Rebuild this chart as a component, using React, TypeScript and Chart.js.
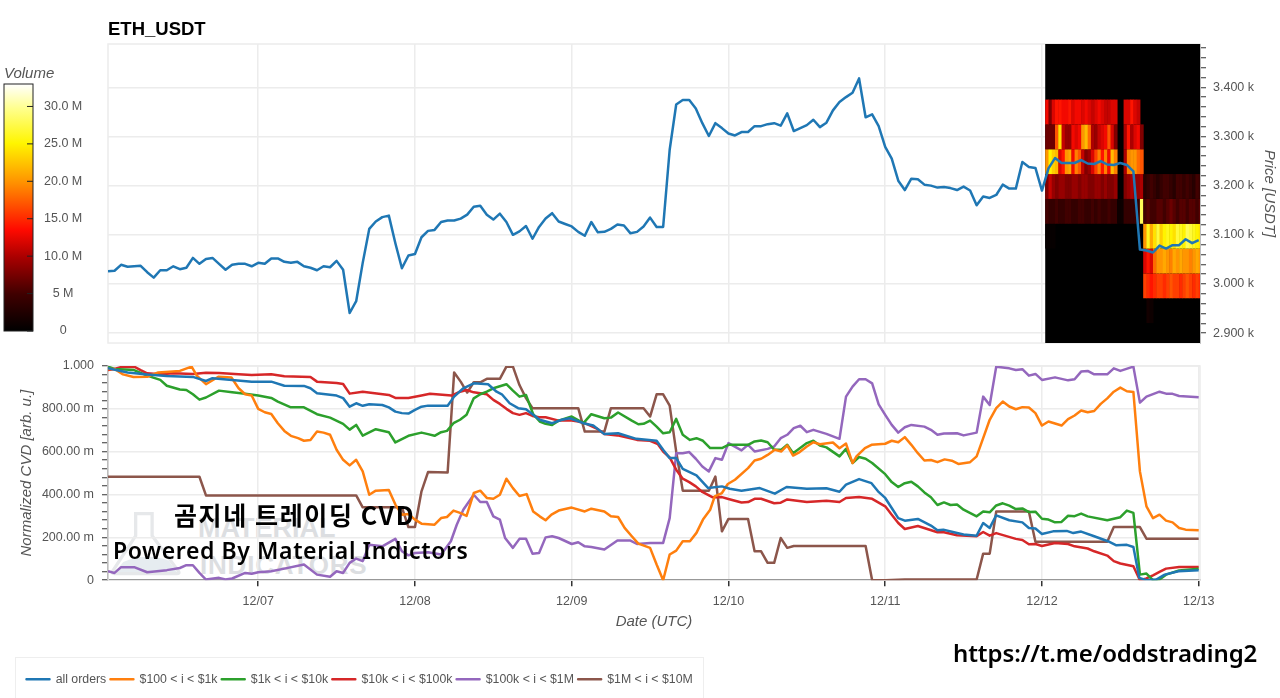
import React, { useEffect, useRef } from "react";
import { Chart, registerables } from "chart.js";

Chart.register(...registerables);

const SANS = "'Liberation Sans', Arial, sans-serif";
const dayHours = [24, 48, 72, 96, 120, 144, 168];
const dayLabels = ["12/07", "12/08", "12/09", "12/10", "12/11", "12/12", "12/13"];
const hourMin = 1;
const hourMax = 168.2;

const priceUsdt = [
  3026,3027,3039,3035,3036,3037,3024,3013,3028,3028,3036,3030,3033,3053,3041,3051,3053,3041,3029,3039,
  3041,3041,3036,3043,3041,3052,3052,3045,3043,3045,3036,3033,3028,3036,3034,3047,3029,2941,2965,3043,
  3112,3127,3136,3139,3083,3032,3058,3061,3095,3108,3110,3126,3129,3129,3133,3141,3157,3159,3141,3131,
  3143,3126,3100,3107,3118,3092,3116,3133,3144,3127,3122,3117,3106,3098,3126,3105,3106,3112,3121,3119,
  3103,3106,3117,3135,3116,3116,3273,3365,3374,3374,3357,3327,3301,3327,3317,3306,3302,3309,3309,3321,
  3321,3325,3327,3322,3347,3311,3317,3323,3334,3319,3328,3353,3370,3380,3389,3418,3339,3345,3321,3279,
  3255,3210,3191,3214,3213,3202,3200,3196,3197,3195,3191,3198,3190,3160,3178,3175,3181,3202,3194,3194,
  3248,3238,3236,3190,3235,3256,3246,3246,3246,3252,3245,3244,3250,3243,3242,3246,3242,3229,3070,3068,
  3064,3078,3072,3079,3079,3091,3083,3089,
];

const allOrdersCvd = [
  [1,.99],[4,.97],[7,.96],[10,.953],[14,.949],[16,.93],[17,.943],[20,.935],[23,.927],[26,.927],[28,.908],[31,.907],[32,.896],[33,.873],[36,.862],[37,.85],[38,.81],[39,.826],[40,.814],[41,.821],[43,.818],[44,.807],[45,.787],[46,.78],[47,.778],[48,.795],[49,.81],[50,.815],[53,.814],[54,.857],[55.4,.896],[57,.919],[59.2,.915],[60.5,.88],[61.3,.868],[62.5,.826],[63.8,.803],[65,.798],[66.1,.772],[67.1,.749],[69,.733],[70.5,.749],[71.7,.756],[73.8,.733],[75.3,.722],[77,.682],[79.1,.686],[81.9,.66],[85,.651],[86,.609],[87,.57],[88,.57],[89,.52],[91.1,.489],[92.9,.43],[95,.438],[96.2,.427],[98,.418],[100.8,.43],[103.1,.404],[104.9,.435],[108,.427],[111,.429],[113,.413],[114,.446],[116,.472],[117.9,.453],[118.9,.415],[120,.384],[121,.337],[122,.29],[123,.278],[125,.286],[127,.255],[128,.233],[128.9,.236],[131,.22],[132,.213],[134,.208],[135,.267],[136,.244],[137,.303],[139,.28],[141,.27],[142,.244],[143,.241],[144,.216],[145.7,.228],[147.8,.23],[148.8,.22],[150,.227],[152,.205],[154.1,.182],[155.4,.163],[157,.165],[158,.155],[158.9,.011],[160,0],[161.5,.003],[162.8,.026],[164.9,.042],[168,.047],
];
const tier100Cvd = [
  [1,.986],[2,.986],[3.3,.961],[4.9,.949],[7,.95],[8.7,.97],[12,.977],[13.8,.997],[14.6,.955],[16,.915],[17.9,.95],[19.9,.946],[21,.896],[22,.868],[23,.862],[24,.8],[25,.784],[26,.776],[27,.733],[28,.697],[29,.674],[30.1,.663],[31,.651],[32,.655],[33,.694],[34,.689],[35,.679],[36,.609],[37,.562],[38,.536],[39,.562],[40,.508],[41,.399],[42,.418],[44,.421],[45,.353],[46,.306],[47,.309],[48,.283],[49,.264],[51,.259],[52,.29],[52.9,.295],[53.9,.325],[54.9,.314],[55.9,.3],[57,.407],[58,.418],[59,.384],[60,.38],[61,.399],[62,.474],[63,.43],[64,.393],[65.1,.402],[66.1,.321],[67.1,.298],[68,.28],[68.9,.306],[70,.325],[72,.339],[74,.321],[75,.334],[77,.321],[78,.298],[79.1,.295],[80.1,.244],[81.2,.205],[82.2,.171],[84,.151],[85,.073],[86,0],[87,.12],[88,.138],[89,.182],[90.1,.182],[91.1,.221],[92.1,.283],[93.2,.329],[93.9,.391],[95,.407],[95.9,.449],[97,.469],[99,.523],[100,.559],[101,.567],[102,.585],[103.1,.609],[104.1,.601],[105,.629],[105.9,.582],[106.9,.598],[108,.624],[109,.644],[110,.635],[112,.643],[113,.616],[114,.638],[115,.547],[115.6,.578],[116.9,.617],[117.9,.632],[120,.637],[121,.651],[122,.644],[123,.668],[124,.632],[125,.593],[126,.559],[127,.561],[128,.551],[129.1,.564],[130.2,.558],[131.2,.543],[133,.551],[134,.578],[135,.663],[136,.749],[137,.803],[138,.834],[139,.811],[140,.798],[141,.808],[142,.806],[143,.78],[144,.722],[145,.741],[147,.722],[148,.752],[149,.769],[150,.792],[151,.784],[152,.79],[153,.823],[154,.849],[155,.88],[156,.899],[157,.882],[158,.879],[159,.508],[160,.345],[161,.29],[162,.306],[163,.278],[164,.27],[165,.244],[166,.236],[168,.233],
];
const tier1kCvd = [
  [1,.997],[2,.986],[5,.981],[7,.955],[9,.935],[10,.908],[12,.89],[13,.888],[14,.868],[15,.843],[16,.853],[18,.885],[20,.877],[22,.87],[24,.862],[26,.851],[27,.834],[29,.807],[31,.807],[33,.775],[35,.759],[37,.73],[38,.703],[39,.725],[40,.675],[42,.705],[44,.691],[45,.643],[47,.674],[49,.689],[50,.682],[51,.674],[52,.691],[52.9,.697],[53.9,.733],[54.9,.749],[55.9,.772],[57,.849],[58,.868],[59,.88],[60,.896],[62,.915],[63,.885],[64,.857],[65,.865],[66.1,.775],[67.1,.741],[68,.73],[69,.725],[70,.745],[72,.764],[73.8,.733],[75,.775],[77,.756],[78,.759],[79.1,.783],[81.2,.745],[82.2,.728],[83,.73],[84,.745],[85,.717],[86,.686],[87,.691],[88,.753],[89,.679],[90.1,.655],[91.1,.663],[92.1,.651],[93.2,.617],[95,.617],[96,.632],[99,.632],[100,.648],[101,.652],[102,.644],[103,.609],[104.1,.609],[105,.632],[105.9,.593],[108,.64],[109,.651],[110,.629],[111,.62],[113,.578],[114,.613],[115,.547],[116,.575],[117,.567],[118,.547],[120,.495],[121,.458],[122,.435],[123,.453],[124,.46],[125,.438],[126,.41],[127,.387],[128,.351],[129,.363],[130,.351],[131,.353],[132,.329],[134,.298],[135,.321],[136,.317],[137,.349],[138,.359],[139,.348],[140,.332],[141,.335],[142,.318],[143,.32],[144,.287],[145,.283],[146,.27],[147,.272],[148,.301],[149,.299],[150,.311],[151,.298],[154,.28],[156,.294],[157,.325],[158,.314],[159,.026],[160,.031],[161,0],[162,.003],[163,.026],[165,.045],[168,.053],
];
const tier10kCvd = [
  [1,.981],[2,.986],[3,.995],[5,.997],[6,.981],[7,.966],[9,.961],[11,.966],[14,.963],[16,.969],[18,.967],[21,.961],[23,.958],[26,.961],[28,.952],[32,.949],[33,.927],[36,.921],[37,.916],[38,.871],[40,.88],[44,.865],[45,.851],[47,.851],[49,.862],[50.3,.87],[53.6,.862],[54.9,.88],[55.9,.888],[57,.877],[59,.868],[60,.842],[61,.823],[62,.8],[63,.78],[64,.772],[65,.78],[66,.767],[67,.761],[68,.761],[70,.745],[72,.745],[73,.741],[74,.733],[76,.705],[77,.682],[79,.676],[81,.663],[82,.655],[84,.651],[85.2,.635],[86,.601],[87,.573],[88,.516],[89,.474],[90,.458],[91,.438],[92,.412],[93.6,.387],[95,.388],[96,.379],[98,.363],[99,.365],[100,.38],[101,.38],[103,.359],[104,.362],[105,.377],[108,.365],[111,.371],[113,.365],[114,.384],[116,.388],[118,.38],[120,.345],[121,.306],[122,.267],[123,.239],[125,.253],[128,.224],[129,.224],[131,.21],[134,.205],[135,.225],[136,.208],[137,.22],[140,.193],[141,.188],[142,.168],[143,.169],[144,.16],[146,.174],[148,.169],[149,.158],[151,.148],[152,.135],[154,.115],[155,.089],[156,.078],[158,.065],[159,0],[160,.008],[161,.023],[162,.039],[163,.054],[165,.062],[168,.062],
];
const tier100kCvd = [
  [1,.042],[2,.034],[3,.061],[5,.061],[7,.037],[10,.047],[12,.057],[13,.07],[14,.07],[15,.034],[16,.003],[18,.011],[19,.003],[20,.008],[22,.034],[23,.03],[24,.037],[26,.042],[28,.054],[31,.073],[33,.026],[35,.016],[36,.042],[37,.034],[38,.081],[39,.101],[40,.089],[41,.166],[43,.158],[45,.193],[46,.135],[47,.116],[48,.127],[50,.13],[52,.12],[53.5,.182],[54.4,.259],[55.4,.329],[57,.399],[58,.365],[59,.365],[60,.298],[61,.283],[61.8,.197],[63,.151],[64,.193],[65,.193],[66,.124],[67,.127],[68,.2],[69,.205],[70,.197],[72,.169],[73,.177],[74,.158],[75,.155],[77,.143],[79,.185],[81,.185],[82,.169],[84,.174],[86,.174],[87,.29],[88,.593],[89,.593],[90,.598],[91,.567],[92,.531],[93,.508],[94,.57],[95,.562],[96,.64],[98,.606],[99,.632],[100,.601],[102,.613],[103,.624],[104,.663],[105,.679],[106,.71],[107,.721],[108,.691],[109,.702],[111,.683],[113,.66],[114,.857],[115,.904],[116,.938],[117,.938],[118,.919],[119,.821],[120,.772],[121,.725],[122,.689],[123,.714],[124,.725],[126,.717],[127,.702],[128,.679],[129,.685],[131,.686],[132,.676],[134,.689],[135,.857],[136,.818],[137,.997],[139,.989],[140,.981],[141,.985],[142,.955],[143,.963],[144,.935],[146,.947],[148,.933],[149,.938],[150,.974],[151,.977],[152,.961],[154,.961],[155,.989],[156,.977],[158,.997],[159,.829],[160,.857],[162,.88],[163,.871],[164,.87],[165,.86],[168,.854],
];
const tier1mCvd = [
  [1,.483],[15,.483],[16,.396],[39,.396],[40,.34],[46,.34],[47,.248],[48,.248],[49,.415],[50,.505],[53,.503],[54,.97],[55,.927],[56,.876],[57,.924],[58,.924],[59,.94],[61,.94],[62,.997],[63,.997],[64,.911],[65,.85],[66,.803],[73,.803],[74,.694],[77,.694],[78,.803],[83,.803],[84,.764],[85,.868],[86,.868],[87,.815],[88,.6],[89,.418],[93,.418],[94,.484],[95,.228],[96,.286],[99,.286],[100,.135],[101,.135],[102,.081],[103,.081],[104,.197],[105,.151],[106,.16],[117,.16],[118,0],[120,0],[123,.003],[134,.003],[135,.124],[136,.124],[137,.321],[142,.321],[143,.179],[154,.179],[155,.248],[159,.248],[160,.194],[168,.194],
];

const cvdSeriesNames = ["all orders", "$100 < i < $1k", "$1k < i < $10k", "$10k < i < $100k", "$100k < i < $1M", "$1M < i < $10M"];
const cvdSeriesColors = ["#1f77b4", "#ff7f0e", "#2ca02c", "#d62728", "#9467bd", "#8c564b"];
const cvdSeriesValues = [allOrdersCvd, tier100Cvd, tier1kCvd, tier10kCvd, tier100kCvd, tier1mCvd];

const cvdTicks = [0,.04,.08,.12,.16,.2,.24,.28,.32,.36,.4,.44,.48,.52,.56,.6,.64,.68,.72,.76,.8,.84,.88,.92,.96,1];
const cvdTickLabels = { 0: "0", 20: "200.00 m", 40: "400.00 m", 60: "600.00 m", 80: "800.00 m", 100: "1.000" };
const priceTicks = [2900,2920,2940,2960,2980,3000,3020,3040,3060,3080,3100,3120,3140,3160,3180,3200,3220,3240,3260,3280,3300,3320,3340,3360,3380,3400,3420,3440,3460,3480];
const priceTickLabels = { 2900: "2.900 k", 3000: "3.000 k", 3100: "3.100 k", 3200: "3.200 k", 3300: "3.300 k", 3400: "3.400 k" };
const volumeTicks = [0, 5e6, 10e6, 15e6, 20e6, 25e6, 30e6];
const volumeTickLabels = ["0", "5 M", "10.0 M", "15.0 M", "20.0 M", "25.0 M", "30.0 M"];

// Order-book volume heat map, in millions: half-hour columns from hour 144.5, 50.5 USDT price bins.
const heatStartHour = 144.5;
const heatColumnHours = 0.5;
const heatFirstBinPrice = 2920.5;
const heatBinPrice = 50.5;
const heatBin2920 = [0,0,0,0,0,0,0,0,0,0,0,0,0,0,0,0,0,0,0,0,0,0,0,0,0,0,0,0,0,0,0,1.5,1,0,0,0,0,0,0,0,0,0,0,0,0,0,0,0];
const heatBin2971 = [0,0,0,0,0,0,0,0,0,0,0,0,0,0,0,0,0,0,0,0,0,0,0,0,0,0,0,0,0,0,16,15,14,15,16,16,15,16,17,16,16,15,16,17,16,15,16,15];
const heatBin3022 = [0,0,0,0,0,0,0,0,0,0,0,0,0,0,0,0,0,0,0,0,0,0,0,0,0,0,0,0,0,0,12,14,12,18,20,20,21,20,19,21,20,21,20,20,19,20,21,20];
const heatBin3072 = [.5,.5,.5,0,0,0,0,0,0,0,0,0,0,0,0,0,0,0,0,0,0,0,0,0,0,0,0,0,0,0,20,26,21,24,27,23,25,26,25,24,27,26,25,28,27,26,25,24];
const heatBin3122 = [5,4,4,5,4,4,5,5,4,4,5,5,4,4,5,4,5,4,4,5,4,4,1,1,4,4,4,4,4,28,5,6,5,5,6,6,5,6,7,6,5,6,6,5,6,6,5,6];
const heatBin3171 = [8,11,9,8,9,9,8,8,9,9,8,9,9,8,8,9,9,8,9,8,8,9,0,0,8,9,10,9,9,10,3,4,5,4,3,4,5,5,4,3,5,5,4,5,4,3,5,4];
const heatBin3222 = [20,25,23,22,12,14,20,21,13,19,17,11,8,9,12,16,19,14,19,13,22,19,0,0,10,19,20,20,18,17,0,0,0,0,0,0,0,0,0,0,0,0,0,0,0,0,0,0];
const heatBin3273 = [7,7,7,17,24,11,9,9,13,12,13,20,22,18,10,9,11,12,13,17,12,8,0,0,10,14,10,12,13,8,0,0,0,0,0,0,0,0,0,0,0,0,0,0,0,0,0,0];
const heatBin3322 = [13,8,12,14,14,13,13,14,12,13,13,12,13,12,11,12,13,12,11,11,12,12,0,0,12,12,14,12,11,0,0,0,0,0,0,0,0,0,0,0,0,0,0,0,0,0,0,0];
const heatBins = [heatBin2920, heatBin2971, heatBin3022, heatBin3072, heatBin3122, heatBin3171, heatBin3222, heatBin3273, heatBin3322];

const fireStops = [
  [0, [0, 0, 0]], [0.15, [64, 0, 0]], [0.3, [170, 0, 0]], [0.41, [255, 10, 0]], [0.6, [255, 145, 0]],
  [0.76, [255, 245, 0]], [0.9, [255, 255, 140]], [1, [255, 255, 255]],
];
function fireColor(fraction) {
  const f = Math.max(0, Math.min(1, fraction));
  for (let i = 1; i < fireStops.length; i++) {
    const [b, cb] = fireStops[i];
    const [a, ca] = fireStops[i - 1];
    if (f <= b) {
      const t = (f - a) / (b - a);
      return `rgb(${ca.map((c, k) => Math.round(c + (cb[k] - c) * t)).join(",")})`;
    }
  }
  return "#fff";
}

const tickText = { color: "#555", font: { family: SANS, size: 12.5 } };
const axisTitle = (text, padding) => ({
  display: true, text, color: "#555", padding,
  font: { family: SANS, size: 15, style: "italic" },
});
const GRID = "#ececec";
const AXIS = "#333";

const heatmapPlugin = {
  id: "heatmap",
  beforeDatasetsDraw(chart) {
    const { ctx, scales: { x, y }, chartArea } = chart;
    ctx.save();
    ctx.beginPath();
    ctx.rect(chartArea.left, chartArea.top, chartArea.right - chartArea.left, chartArea.bottom - chartArea.top);
    ctx.clip();
    const left = x.getPixelForValue(heatStartHour);
    ctx.fillStyle = "#000";
    ctx.fillRect(left, chartArea.top, chartArea.right - left, chartArea.bottom - chartArea.top);
    heatBins.forEach((bin, r) => {
      const low = y.getPixelForValue(heatFirstBinPrice + r * heatBinPrice);
      const high = y.getPixelForValue(heatFirstBinPrice + (r + 1) * heatBinPrice);
      bin.forEach((v, c) => {
        if (!v) return;
        const x0 = x.getPixelForValue(heatStartHour + c * heatColumnHours);
        const x1 = x.getPixelForValue(heatStartHour + (c + 1) * heatColumnHours);
        ctx.fillStyle = fireColor(v / 33);
        ctx.fillRect(x0, high, x1 - x0 + 0.5, low - high);
      });
    });
    ctx.restore();
  },
};

const outlinePlugin = {
  id: "outline",
  beforeDatasetsDraw(chart) {
    const { ctx, chartArea: a } = chart;
    ctx.save();
    ctx.strokeStyle = GRID;
    ctx.lineWidth = 1.5;
    ctx.strokeRect(a.left, a.top, a.right - a.left, a.bottom - a.top);
    ctx.restore();
  },
};

const legendPlacementPlugin = {
  id: "legendPlacement",
  afterLayout(chart) {
    chart.legend.left = 22.3;
    chart.legend.top = 318.8;
    chart.legend.bottom = 348;
  },
};

const colorbarPlugin = {
  id: "colorbarFrame",
  afterDraw(chart) {
    const { ctx, chartArea: a, scales: { y } } = chart;
    ctx.save();
    ctx.strokeStyle = "#222";
    ctx.lineWidth = 1;
    ctx.strokeRect(a.left, a.top, a.right - a.left, a.bottom - a.top);
    y.ticks.forEach((_, i) => {
      const py = y.getPixelForTick(i);
      ctx.beginPath();
      ctx.moveTo(a.right - 6, py);
      ctx.lineTo(a.right, py);
      ctx.stroke();
    });
    ctx.restore();
  },
};

const isMultiple = (value, step) => Math.abs(value / step - Math.round(value / step)) < 1e-6;

export default function App() {
  const colorbarRef = useRef(null);
  const priceRef = useRef(null);
  const cvdRef = useRef(null);

  useEffect(() => {
    const xAxis = (extra) => ({
      type: "linear",
      min: hourMin,
      max: hourMax,
      afterBuildTicks: (axis) => { axis.ticks = dayHours.map((value) => ({ value })); },
      grid: { color: GRID, lineWidth: 1.5, tickColor: AXIS, tickLength: 6 },
      ...extra,
    });

    const colorbar = new Chart(colorbarRef.current, {
      type: "bar",
      data: {
        labels: ["Volume"],
        datasets: [{
          data: [[0, 33e6]],
          barPercentage: 1,
          categoryPercentage: 1,
          backgroundColor: (ctx) => {
            const area = ctx.chart.chartArea;
            if (!area) return "#000";
            const gradient = ctx.chart.ctx.createLinearGradient(0, area.bottom, 0, area.top);
            fireStops.forEach(([f]) => gradient.addColorStop(f, fireColor(f)));
            return gradient;
          },
        }],
      },
      options: {
        responsive: false,
        animation: false,
        devicePixelRatio: 1,
        layout: { padding: { left: 4, right: 8, top: 0, bottom: 19 } },
        plugins: {
          legend: { display: false },
          tooltip: { enabled: false },
          title: {
            display: true, text: "Volume", align: "start", color: "#555",
            font: { family: SANS, size: 15, style: "italic", weight: "normal" },
            padding: { top: 5, bottom: 1 },
          },
        },
        scales: {
          x: { display: false },
          y: {
            position: "right",
            min: 0,
            max: 33e6,
            afterBuildTicks: (axis) => { axis.ticks = volumeTicks.map((value) => ({ value })); },
            afterFit: (axis) => { axis.width = 59; },
            grid: { display: false },
            border: { display: false },
            ticks: {
              ...tickText,
              crossAlign: "center",
              autoSkip: false,
              callback: (v) => volumeTickLabels[volumeTicks.indexOf(v)],
            },
          },
        },
      },
      plugins: [colorbarPlugin],
    });

    const price = new Chart(priceRef.current, {
      type: "line",
      data: {
        datasets: [{
          label: "ETH_USDT",
          data: priceUsdt.map((y, i) => ({ x: i + 1, y })),
          borderColor: "#1f77b4",
          borderWidth: 2.5,
          pointRadius: 0,
          tension: 0,
          borderJoinStyle: "round",
        }],
      },
      options: {
        responsive: false,
        animation: false,
        devicePixelRatio: 1,
        layout: { padding: { left: 108, right: 0, top: 0, bottom: 17 } },
        plugins: {
          legend: { display: false },
          tooltip: { enabled: false },
          title: {
            display: true, text: "ETH_USDT", align: "start", fullSize: false, color: "#000",
            font: { family: SANS, size: 18.5, weight: "bold" },
            padding: { top: 19, bottom: 2.8 },
          },
        },
        scales: {
          x: xAxis({
            ticks: { display: false },
            border: { display: false },
            grid: { color: GRID, lineWidth: 1.5, drawTicks: false },
            afterFit: (axis) => { axis.height = 0; },
          }),
          y: {
            position: "right",
            min: 2880,
            max: 3488,
            afterBuildTicks: (axis) => { axis.ticks = priceTicks.map((value) => ({ value })); },
            afterFit: (axis) => { axis.width = 80; },
            border: { color: AXIS, width: 1 },
            grid: {
              lineWidth: 1.5,
              tickLength: 6,
              tickWidth: 1,
              tickColor: AXIS,
              color: (c) => (isMultiple(c.tick.value, 100) ? GRID : "transparent"),
            },
            title: axisTitle("Price [USDT]", { top: 2, bottom: 0 }),
            ticks: {
              ...tickText,
              padding: 7,
              autoSkip: false,
              callback: (v) => priceTickLabels[v] ?? "",
            },
          },
        },
      },
      plugins: [outlinePlugin, heatmapPlugin],
    });

    const cvd = new Chart(cvdRef.current, {
      type: "line",
      data: {
        datasets: cvdSeriesNames.map((label, i) => ({
          label,
          data: cvdSeriesValues[i].map(([x, y]) => ({ x, y })),
          borderColor: cvdSeriesColors[i],
          backgroundColor: cvdSeriesColors[i],
          borderWidth: 2.5,
          pointRadius: 0,
          tension: 0,
          borderJoinStyle: "round",
        })),
      },
      options: {
        responsive: false,
        animation: false,
        devicePixelRatio: 1,
        layout: { padding: { left: 0, right: 80, top: 16, bottom: 31.3 } },
        plugins: {
          tooltip: { enabled: false },
          title: { display: false },
          legend: {
            display: true,
            position: "bottom",
            align: "start",
            labels: {
              boxWidth: 23,
              boxHeight: 0,
              padding: 4.2,
              color: "#555",
              font: { family: SANS, size: 12.3 },
            },
          },
        },
        scales: {
          x: xAxis({
            border: { color: AXIS, width: 1.5 },
            afterFit: (axis) => { axis.height = 60; },
            title: axisTitle("Date (UTC)", { top: 0, bottom: 9 }),
            ticks: {
              ...tickText,
              autoSkip: false,
              maxRotation: 0,
              padding: 8,
              callback: (v) => dayLabels[dayHours.indexOf(v)],
            },
          }),
          y: {
            min: 0,
            max: 1,
            afterBuildTicks: (axis) => { axis.ticks = cvdTicks.map((value) => ({ value })); },
            afterFit: (axis) => { axis.width = 108; },
            border: { color: AXIS, width: 1.5 },
            grid: {
              lineWidth: 1.5,
              tickLength: 6,
              tickWidth: 1,
              tickColor: AXIS,
              color: (c) => (isMultiple(c.tick.value, 0.2) ? GRID : "transparent"),
            },
            title: axisTitle("Normalized CVD [arb. u.]", { top: 18, bottom: 0 }),
            ticks: {
              ...tickText,
              padding: 8,
              autoSkip: false,
              callback: (v) => cvdTickLabels[Math.round(v * 100)] ?? "",
            },
          },
        },
      },
      plugins: [outlinePlugin, legendPlacementPlugin],
    });

    return () => {
      colorbar.destroy();
      price.destroy();
      cvd.destroy();
    };
  }, []);

  const abs = (left, top) => ({ position: "absolute", left, top });
  return (
    <div style={{ position: "fixed", left: 0, top: 0, width: 1280, height: 698, overflow: "hidden", background: "#fff" }}>
      <svg width="74" height="72" style={abs(111, 508)} viewBox="0 0 90 80">
        <path d="M30 3 H50 V30 L82 73 Q84 76 80 76 H4 Q0 76 2 73 L30 30 Z" fill="none" stroke="#e6e8ea" strokeWidth="4" />
        <path d="M15 62 Q40 50 70 60 L80 74 H5 Z" fill="#e6ecf0" />
      </svg>
      <div style={{ ...abs(198, 513), font: `bold 27px/30px ${SANS}`, color: "#dcdee1" }}>MATERIAL</div>
      <div style={{ ...abs(200, 550), font: `bold 26px/30px ${SANS}`, color: "#dcdee1", letterSpacing: 0.8 }}>INDICATORS</div>
      <div style={{ ...abs(15, 657), width: 689, height: 60, border: "1px solid #eeeeee", boxSizing: "border-box" }} />
      <canvas ref={colorbarRef} width={100} height={290} style={abs(0, 60)} />
      <canvas ref={priceRef} width={1280} height={360} style={abs(0, 0)} />
      <canvas ref={cvdRef} width={1280} height={348} style={abs(0, 350)} />
      <div style={{ ...abs(174, 499), font: `600 25px/30px 'Noto Sans CJK KR', 'Noto Sans', sans-serif`, color: "#000", letterSpacing: 1.6, whiteSpace: "nowrap" }}>곰지네 트레이딩 CVD</div>
      <div style={{ ...abs(113, 535), font: `600 23px/30px 'Noto Sans', sans-serif`, color: "#000", letterSpacing: 0.6, whiteSpace: "nowrap" }}>Powered By Material Indictors</div>
      <div style={{ ...abs(953, 638), font: `600 24px/30px 'Noto Sans', sans-serif`, color: "#000", letterSpacing: -0.1, whiteSpace: "nowrap" }}>https://t.me/oddstrading2</div>
    </div>
  );
}
